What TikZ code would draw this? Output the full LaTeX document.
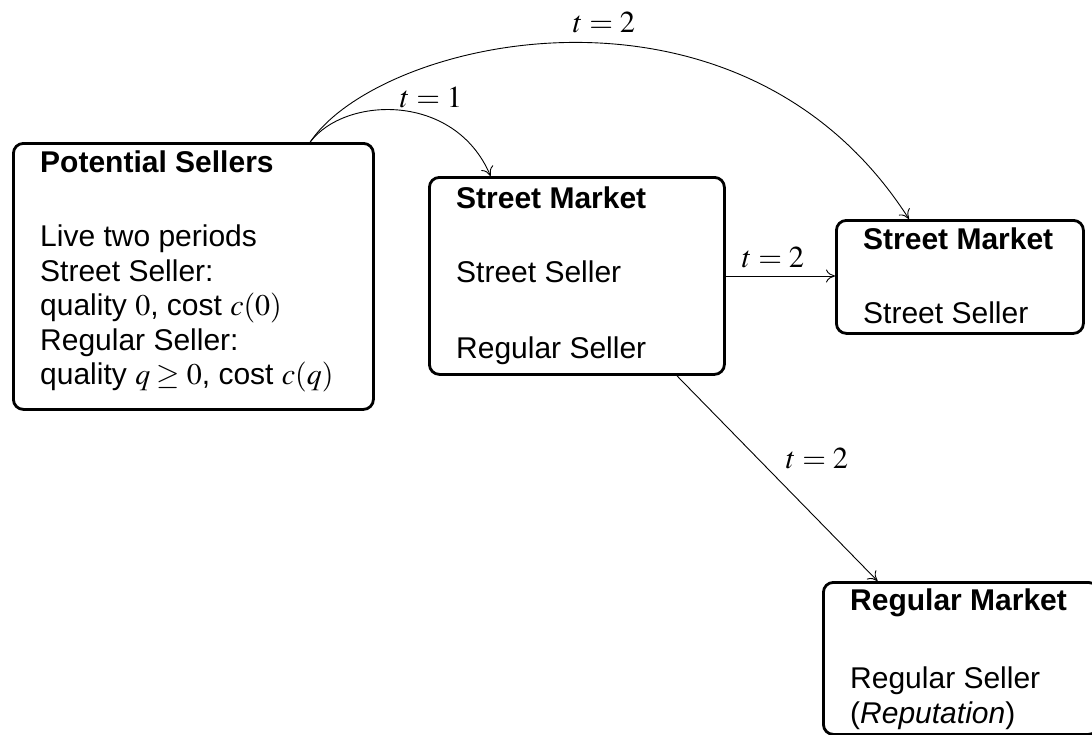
\documentclass[tikz,border=0pt]{standalone}
\usepackage{mathptmx}
\usepackage[no-math]{fontspec}
\setsansfont{Liberation Sans}
\renewcommand{\familydefault}{\sfdefault}
\usetikzlibrary{calc,arrows.meta}
\tikzset{
  box/.style={draw, line width=2.8pt, rounded corners=10pt, inner sep=0pt, anchor=north west},
  txt/.style={anchor=base west, inner sep=0pt, font=\fontsize{30}{34.5}\selectfont\sffamily},
  conn/.style={-{Computer Modern Rightarrow[length=9pt,width=13pt]}, line width=0.9pt},
  lab/.style={font=\fontsize{30.5}{34.5}\selectfont, inner sep=0pt}
}
\begin{document}
\begin{tikzpicture}[x=1pt,y=-1pt]
\useasboundingbox (0,0) rectangle (1092,734);
% boxes
\node[box, minimum width=360pt, minimum height=266pt] (ps) at (12,142) {};
\node[box, minimum width=295pt, minimum height=197pt] (sm1) at (428,176) {};
\node[box, minimum width=247pt, minimum height=113pt] (sm2) at (835,219) {};
\node[box, minimum width=275pt, minimum height=152pt] (rm) at (822,581) {};
% texts
\node[txt] (pst) at (40,172) {\begin{tabular}[t]{@{}l@{}}\textbf{Potential Sellers}\\[40pt]
Live two periods\\
Street Seller:\\
quality $0$, cost $c(0)$\\
Regular Seller:\\
quality $q\geq 0$, cost $c(q)$\end{tabular}};
\node[txt] (sm1t) at (456,208) {\begin{tabular}[t]{@{}l@{}}\textbf{Street Market}\\[40pt]
Street Seller\\[41pt]
Regular Seller\end{tabular}};
\node[txt] (sm2t) at (863,249) {\begin{tabular}[t]{@{}l@{}}\textbf{Street Market}\\[39.5pt]
Street Seller\end{tabular}};
\node[txt] (rmt) at (850,610) {\begin{tabular}[t]{@{}l@{}}\textbf{Regular Market}\\[43.5pt]
Regular Seller\\[0.5pt]
(\textit{Reputation})\end{tabular}};
% connector anchors
\coordinate (s) at ($(ps.north west)!0.822!(ps.north east)$);
\coordinate (e1) at ($(sm1.north west)!0.21!(sm1.north east)$);
\coordinate (e2) at ($(sm2.north west)!0.296!(sm2.north east)$);
\coordinate (e3) at ($(rm.north west)!0.2!(rm.north east)$);
\coordinate (d0) at ($(sm1.south west)!0.836!(sm1.south east)$);
% connectors
\draw[conn] (s) .. controls (345,96) and (455,92) .. (e1);
\draw[conn] (s) .. controls (380,38) and (740,-45) .. (e2);
\draw[conn] (sm1.east |- 0,276) -- (sm2.west |- 0,276);
\draw[conn] (d0) -- (e3);
% labels
\node[lab] (l1) at (431,97) {$t=1$};
\node[lab] (l2) at (604,22) {$t=2$};
\node[lab] (l3) at (773,257) {$t=2$};
\node[lab] (l4) at (817,458) {$t=2$};
\end{tikzpicture}
\end{document}
